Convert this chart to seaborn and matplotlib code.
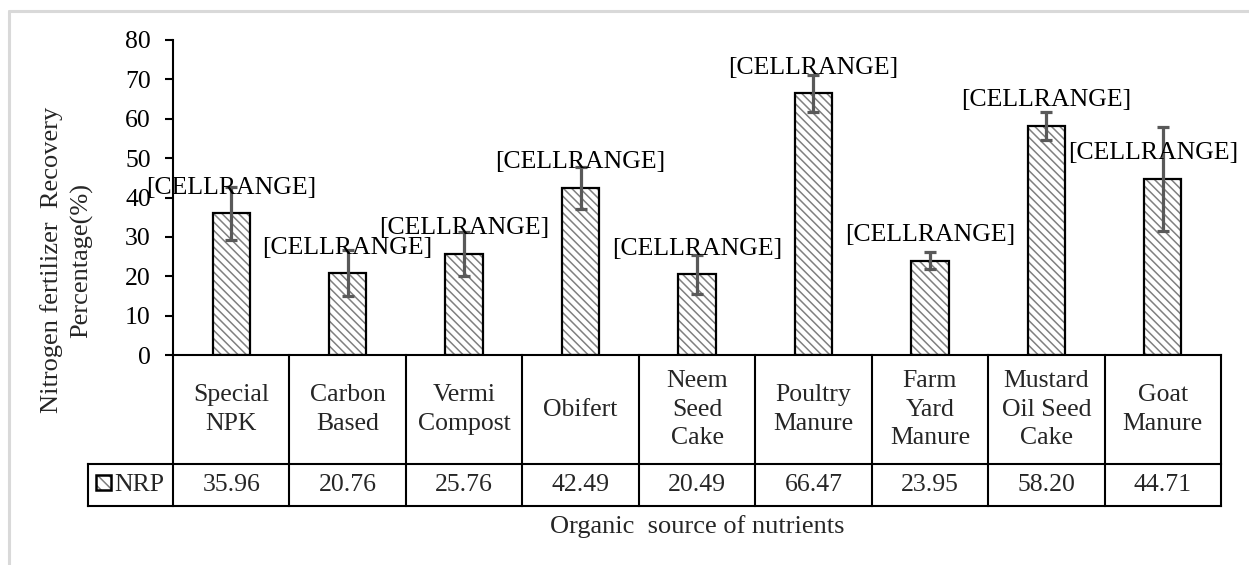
import numpy as np
import pandas as pd
import matplotlib
matplotlib.use('Agg')
from matplotlib import pyplot as plt
from matplotlib.patches import Rectangle
import matplotlib.transforms as mtransforms
import seaborn as sns

# data
categories = ['Special\nNPK', 'Carbon\nBased', 'Vermi\nCompost', 'Obifert', 'Neem\nSeed\nCake',
              'Poultry\nManure', 'Farm\nYard\nManure', 'Mustard\nOil Seed\nCake', 'Goat\nManure']
nrp = [35.96, 20.76, 25.76, 42.49, 20.49, 66.47, 23.95, 58.20, 44.71]
nrp_err = [6.7, 5.8, 5.6, 5.3, 5.0, 4.7, 2.2, 3.5, 13.2]
label_shift = [0, 0, 0, 0, 0, 0, 0, 0, -7]  # points, excel nudged the last label left

sns.set_theme(style='white')
plt.rcParams['font.family'] = ['Liberation Serif', 'DejaVu Serif']
plt.rcParams['hatch.linewidth'] = 1.1
fs = 18.5

W, H = 1249, 565
fig = plt.figure(figsize=(W / 100, H / 100), dpi=100)
ax = fig.add_axes([173 / W, (H - 355) / H, (1221 - 173) / W, (355 - 40) / H])

df = pd.DataFrame({'source': categories, 'NRP': nrp})
hatch = '\\\\\\\\'  # 4 x 6 = 24 lines per inch
sns.barplot(data=df, x='source', y='NRP', color='white', saturation=1, width=0.32,
            errorbar=None, ax=ax)

# gray hatch + black outline drawn on top
for p in list(ax.patches):
    p.set_facecolor('white')
    p.set_edgecolor('#808080')
    p.set_linewidth(0)
    p.set_hatch(hatch)
    ax.add_patch(Rectangle(p.get_xy(), p.get_width(), p.get_height(), fill=False,
                           edgecolor='black', linewidth=1.6, zorder=3))

x = np.arange(len(nrp))
ax.errorbar(x, nrp, yerr=nrp_err, fmt='none', ecolor='#595959', elinewidth=2.3,
            capsize=4.5, capthick=2.3, zorder=4)

for i, v in enumerate(nrp):
    ax.annotate('[CELLRANGE]', (i, v), xytext=(label_shift[i], 18.4), textcoords='offset points',
                ha='center', va='center', fontsize=fs, color='black', zorder=5)

ax.set_xlim(-0.5, len(nrp) - 0.5)
ax.set_ylim(0, 80)
ax.set_yticks(range(0, 81, 10))
ax.tick_params(axis='y', direction='out', length=6, width=1.5, pad=10, labelsize=fs,
               colors='black', left=True)
ax.tick_params(axis='x', length=0, labelbottom=False)
ax.set_xlabel('')
ax.set_ylabel('')
for s in ['top', 'right']:
    ax.spines[s].set_visible(False)
for s in ['left', 'bottom']:
    ax.spines[s].set_color('black')
    ax.spines[s].set_linewidth(1.5)

# data table under the axis
tr = mtransforms.blended_transform_factory(ax.transData, ax.transAxes)
r1 = -(464 - 355) / 315
r2 = -(506 - 355) / 315
xl = -0.5 - (173 - 88) / 116.44
lk = dict(color='black', lw=1.5, transform=tr, clip_on=False, solid_capstyle='projecting')
for k in range(len(nrp) + 1):
    ax.plot([k - 0.5, k - 0.5], [0, r2], **lk)
ax.plot([xl, len(nrp) - 0.5], [r1, r1], **lk)
ax.plot([xl, len(nrp) - 0.5], [r2, r2], **lk)
ax.plot([xl, xl], [r1, r2], **lk)

for i, (c, v) in enumerate(zip(categories, nrp)):
    ax.text(i, r1 / 2, c, transform=tr, ha='center', va='center', fontsize=fs,
            linespacing=1.4, multialignment='center')
    ax.text(i, (r1 + r2) / 2, f'{v:.2f}', transform=tr, ha='center', va='center', fontsize=fs)

# legend key inside the table
kx = -0.5 - (173 - 96) / 116.44
ky = -(490 - 355) / 315
kw, kh = 15 / 116.44, 15 / 315
ax.add_patch(Rectangle((kx, ky), kw, kh, transform=tr, clip_on=False, facecolor='white',
                       edgecolor='#808080', linewidth=0, hatch='\\\\\\'))
ax.add_patch(Rectangle((kx, ky), kw, kh, transform=tr, clip_on=False, fill=False,
                       edgecolor='black', linewidth=1.8))
ax.text(-0.5 - (173 - 114) / 116.44, (r1 + r2) / 2, 'NRP', transform=tr, ha='left',
        va='center', fontsize=fs)

# axis titles
fig.text(67 / W, 1 - 260 / H, 'Nitrogen fertilizer  Recovery\nPercentage(%)', rotation=90,
         ha='center', va='center', fontsize=19, multialignment='center', linespacing=1.4)
fig.text(697 / W, 1 - 527 / H, 'Organic  source of nutrients', ha='center', va='center',
         fontsize=19)

# light frame of the chart area
fig.add_artist(plt.Line2D([9 / W, 9 / W], [0, 1 - 11 / H], color='#d9d9d9', lw=2.2,
                          transform=fig.transFigure))
fig.add_artist(plt.Line2D([9 / W, 1], [1 - 11 / H, 1 - 11 / H], color='#d9d9d9', lw=2.2,
                          transform=fig.transFigure))

fig.savefig('out.png', dpi=100, facecolor='white')
